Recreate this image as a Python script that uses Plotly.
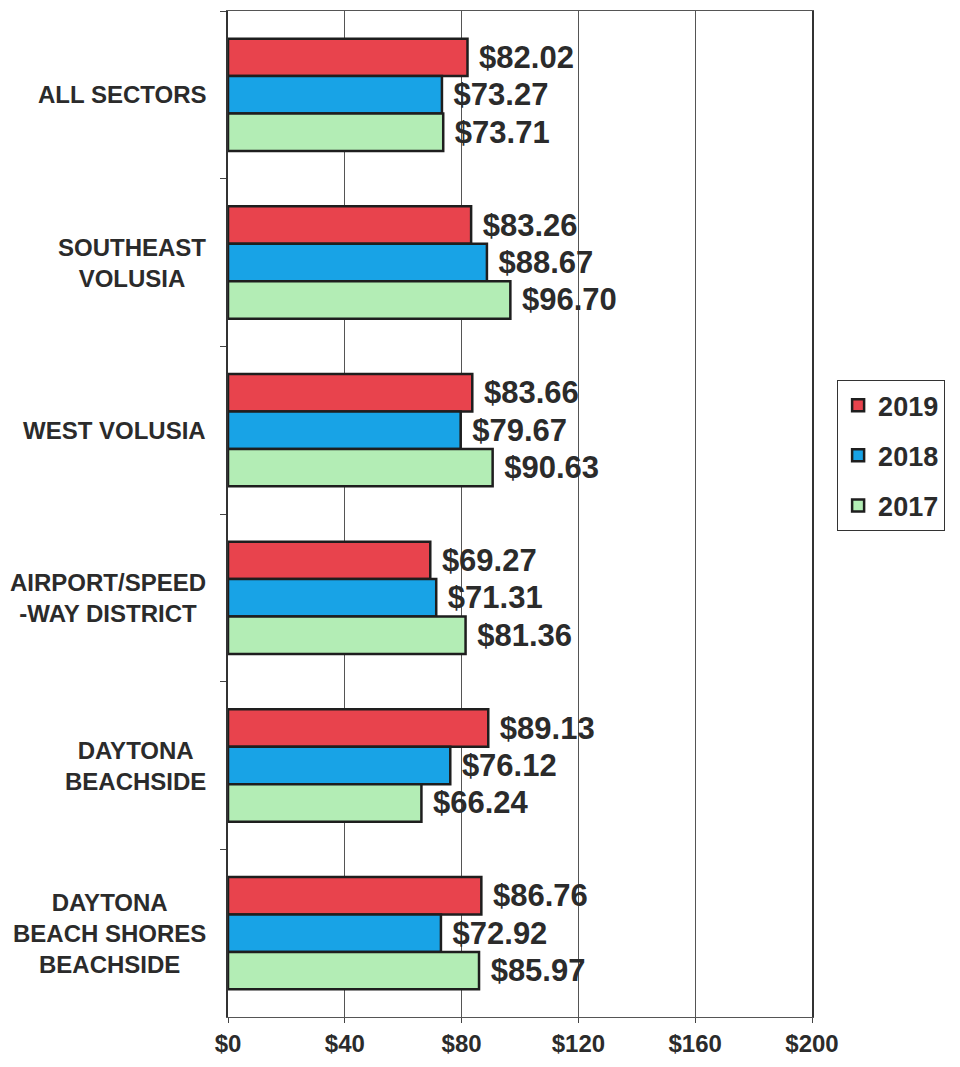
import plotly.graph_objects as go

categories = ["ALL SECTORS", "SOUTHEAST<br>VOLUSIA", "WEST VOLUSIA",
              "AIRPORT/SPEED<br>-WAY DISTRICT", "DAYTONA<br>BEACHSIDE",
              "DAYTONA<br>BEACH SHORES<br>BEACHSIDE"]
cat_keys = ["ALL SECTORS", "SOUTHEAST VOLUSIA", "WEST VOLUSIA",
            "AIRPORT/SPEED-WAY DISTRICT", "DAYTONA BEACHSIDE",
            "DAYTONA BEACH SHORES BEACHSIDE"]
years = ["2019", "2018", "2017"]
values_2019 = [82.02, 83.26, 83.66, 69.27, 89.13, 86.76]
values_2018 = [73.27, 88.67, 79.67, 71.31, 76.12, 72.92]
values_2017 = [73.71, 96.70, 90.63, 81.36, 66.24, 85.97]
tick_vals = [0, 40, 80, 120, 160, 200]
tick_text = ["$0", "$40", "$80", "$120", "$160", "$200"]

colors = {"2019": "#E8434D", "2018": "#18A3E6", "2017": "#B3EDB5"}
series = {"2019": values_2019, "2018": values_2018, "2017": values_2017}

FONT = "Liberation Sans, Arial, sans-serif"
TXT = "#2b2b2b"

fig = go.Figure()
for i, y in enumerate(years):
    fig.add_trace(go.Bar(
        name=y, y=cat_keys, x=series[y], orientation="h",
        marker=dict(color=colors[y], line=dict(color="#1e1e1e", width=2.5)),
        texttemplate=" $%{x:.2f}", textposition="outside",
        textfont=dict(family=FONT, size=31, color=TXT, weight="bold"),
        constraintext="none", cliponaxis=False,
        legendgroup=y,
    ))

for key, lab in zip(cat_keys, categories):
    fig.add_annotation(
        x=-0.034, xref="paper", y=key, yref="y", text=lab,
        xanchor="right", yanchor="middle", align="center", showarrow=False,
        font=dict(family=FONT, size=24, color=TXT, weight="bold"),
    )

fig.update_layout(
    width=960, height=1067,
    margin=dict(l=220, r=156, t=3, b=58),
    paper_bgcolor="white", plot_bgcolor="white",
    barmode="group", bargap=0.33, bargroupgap=0,
    showlegend=True,
    legend=dict(
        x=1.043, xanchor="left", y=0.633, yanchor="top",
        bordercolor="#333", borderwidth=1, bgcolor="white",
        font=dict(family=FONT, size=27, color=TXT, weight="bold"),
        tracegroupgap=12, traceorder="grouped",
    ),
    xaxis=dict(
        range=[0, 200], tickvals=tick_vals, ticktext=tick_text,
        showgrid=True, gridcolor="#555", gridwidth=1,
        showline=True, linecolor="#555", linewidth=1, mirror=True,
        ticks="outside", ticklen=5, tickcolor="#444",
        tickfont=dict(family=FONT, size=24, color=TXT, weight="bold"),
        zeroline=False, fixedrange=True,
    ),
    yaxis=dict(
        autorange="reversed", showticklabels=False,
        showline=True, linecolor="#333", linewidth=1.5, mirror=True,
        ticks="outside", tickson="boundaries", ticklen=6, tickcolor="#444",
        showgrid=False, fixedrange=True,
    ),
)

fig.write_html("out.html")
